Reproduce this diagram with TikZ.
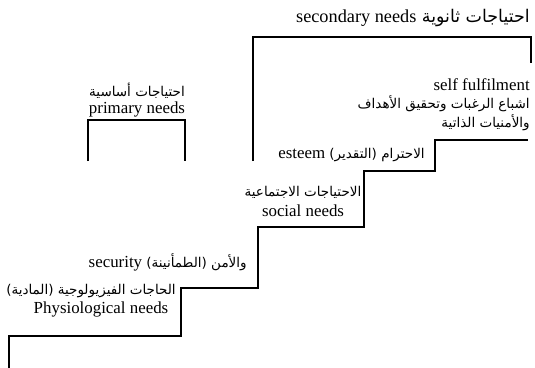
\documentclass[tikz,border=0pt]{standalone}
\usepackage{fontspec}
\setmainfont{Liberation Serif}
\newfontfamily\arabicfont[Script=Arabic,Scale=0.8]{DejaVu Sans}
\TeXXeTstate=1
\usetikzlibrary{positioning}

\begin{document}
\begin{tikzpicture}[x=0.025cm,y=-0.025cm,
        every node/.style={inner sep=0pt, font=\fontsize{12}{14}\selectfont},
        biglabel/.style={font=\fontsize{13}{16}\selectfont}]
        \useasboundingbox (0,0) rectangle (535,368);

        % stairs
        \coordinate (S0) at (9,368);
        \coordinate (S1) at (9,336);
        \coordinate (S2) at (181,336);
        \coordinate (S3) at (181,288);
        \coordinate (S4) at (258,288);
        \coordinate (S5) at (258,227);
        \coordinate (S6) at (364,227);
        \coordinate (S7) at (364,171);
        \coordinate (S8) at (435,171);
        \coordinate (S9) at (435,140);
        \coordinate (S10) at (528,140);

        \draw[thick] (S0) -- (S1) -- (S2) -- (S3) -- (S4) -- (S5) -- (S6)
        -- (S7) -- (S8) -- (S9) -- (S10);

        % brackets
        \coordinate (P1) at (88,161);
        \coordinate (P2) at (88,120);
        \coordinate (P3) at (185,120);
        \coordinate (P4) at (185,161);
        \draw[thick] (P1) -- (P2) -- (P3) -- (P4);

        \coordinate (Q1) at (253,161);
        \coordinate (Q2) at (253,37);
        \coordinate (Q3) at (531,37);
        \coordinate (Q4) at (531,63);
        \draw[thick] (Q1) -- (Q2) -- (Q3) -- (Q4);

        % labels
        \node[biglabel, anchor=east] (secondary) at (530,18)
        {\arabicfont\fontsize{15.5}{18}\selectfont\beginR احتياجات ثانوية
        \beginL{\rmfamily\fontsize{13}{16}\selectfont secondary needs}\endL\endR};

        \node[anchor=east] (selfen) at (530,85) {self fulfilment};
        \node[anchor=east] (selfar) at (530,104)
        {\arabicfont\beginR اشباع الرغبات وتحقيق الأهداف\endR};
        \node[anchor=east] (selfarb) at (530,123)
        {\arabicfont\beginR والأمنيات الذاتية\endR};

        \node (primaryar) at (137,91) {\arabicfont\beginR احتياجات أساسية\endR};
        \node (primaryen) at (137,109) {primary needs};

        \node[anchor=east] (esteem) at (425,155)
        {\arabicfont\beginR الاحترام (التقدير) \beginL{\rmfamily esteem}\endL\endR};

        \node (socialar) at (303,192) {\arabicfont\beginR الاحتياجات الاجتماعية\endR};
        \node (socialen) at (303,211) {social needs};

        \node[anchor=east] (security) at (247,262)
        {\arabicfont\beginR والأمن (الطمأنينة) \beginL{\rmfamily security}\endL\endR};

        \node[anchor=east] (physioar) at (176,291)
        {\arabicfont\beginR الحاجات الفيزيولوجية (المادية)\endR};
        \node (physioen) at (101,309) {Physiological needs};

\end{tikzpicture}
\end{document}
